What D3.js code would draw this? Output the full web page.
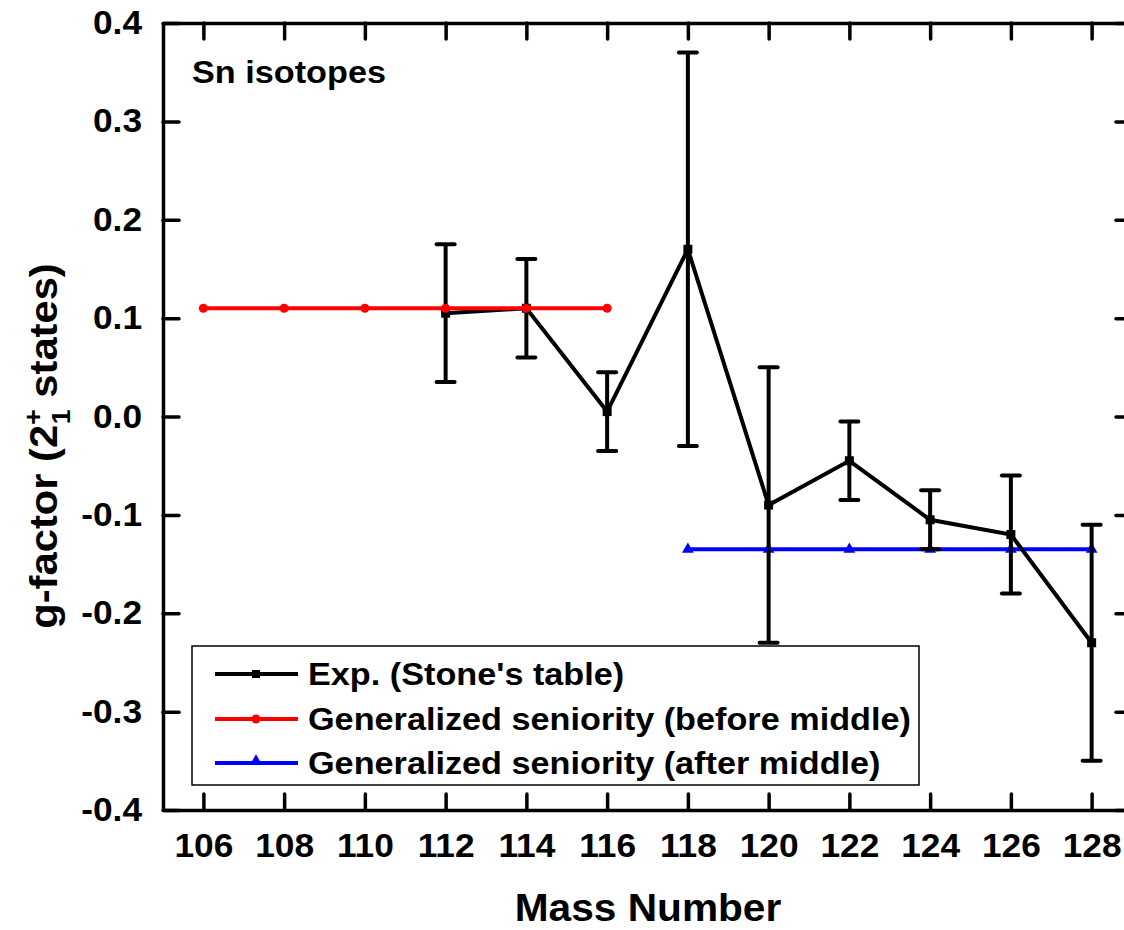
<!DOCTYPE html>
<html>
<head>
<meta charset="utf-8">
<script src="https://cdn.jsdelivr.net/npm/d3@7/dist/d3.min.js"></script>
<style>
  html, body { margin: 0; padding: 0; background: #fff; }
  svg { display: block; font-family: "Liberation Sans", Arial, sans-serif; font-weight: bold; }
</style>
</head>
<body>
<svg id="chart" width="1124" height="930"></svg>
<script>
// Experimental g-factors of 2+1 states in Sn isotopes (Stone's table)
const expMass  = [112, 114, 116, 118, 120, 122, 124, 126, 128];
const expG     = [0.105, 0.11, 0.005, 0.17, -0.09, -0.045, -0.105, -0.12, -0.23];
const expErr   = [0.07, 0.05, 0.04, 0.2, 0.14, 0.04, 0.03, 0.06, 0.12];

// Generalized seniority predictions
const beforeMass = [106, 108, 110, 112, 114, 116];
const beforeG    = [0.11, 0.11, 0.11, 0.11, 0.11, 0.11];
const afterMass  = [118, 120, 122, 124, 126, 128];
const afterG     = [-0.135, -0.135, -0.135, -0.135, -0.135, -0.135];

const xTicks = [106, 108, 110, 112, 114, 116, 118, 120, 122, 124, 126, 128];
const yTicks = [-0.4, -0.3, -0.2, -0.1, 0.0, 0.1, 0.2, 0.3, 0.4];

const legendLabels = [
  "Exp. (Stone's table)",
  "Generalized seniority (before middle)",
  "Generalized seniority (after middle)"
];

const svg = d3.select("#chart");
const frame = { left: 163, right: 1132, top: 23, bottom: 810 };

const x = d3.scaleLinear().domain([105, 129]).range([frame.left, frame.right]);
const y = d3.scaleLinear().domain([-0.4, 0.4]).range([frame.bottom, frame.top]);

const tickLen = 16;
const axisStroke = 3.5;
const fontFam = "Liberation Sans, Arial, sans-serif";
const sx = 1.07;   // slightly widened lettering

// Horizontally widened text placed at (px, py)
function wideText(parent, px, py, str, size, anchor) {
  return parent.append("text")
    .attr("transform", `translate(${px},${py}) scale(${sx},1)`)
    .attr("text-anchor", anchor || "start")
    .attr("font-size", size).attr("fill", "#000")
    .text(str);
}

// Axes (ticks drawn inward on all four sides)
function styleAxis(g) {
  g.select(".domain").attr("stroke", "#000").attr("stroke-width", axisStroke);
  g.selectAll(".tick line").attr("stroke", "#000").attr("stroke-width", 3.5).attr("stroke-linecap", "round");
}

const xBottom = svg.append("g")
  .attr("transform", `translate(0,${frame.bottom})`)
  .call(d3.axisBottom(x).tickValues(xTicks).tickSizeInner(-tickLen).tickSizeOuter(0).tickPadding(24).tickFormat(d => String(d)));
styleAxis(xBottom);
xBottom.selectAll(".tick text").attr("font-size", 33).attr("font-weight", "bold").attr("fill", "#000")
  .attr("font-family", fontFam).attr("transform", `scale(${sx},1)`);

const xTop = svg.append("g")
  .attr("transform", `translate(0,${frame.top})`)
  .call(d3.axisTop(x).tickValues(xTicks).tickSizeInner(-tickLen).tickSizeOuter(0).tickFormat(""));
styleAxis(xTop);

const yPad = 21;
const yLeft = svg.append("g")
  .attr("transform", `translate(${frame.left},0)`)
  .call(d3.axisLeft(y).tickValues(yTicks).tickSizeInner(-tickLen).tickSizeOuter(0).tickPadding(yPad).tickFormat(d => d.toFixed(1)));
styleAxis(yLeft);
yLeft.selectAll(".tick text").attr("font-size", 33).attr("font-weight", "bold").attr("fill", "#000")
  .attr("font-family", fontFam).attr("x", -yPad / sx).attr("transform", `scale(${sx},1)`);

const yRight = svg.append("g")
  .attr("transform", `translate(${frame.right},0)`)
  .call(d3.axisRight(y).tickValues(yTicks).tickSizeInner(-tickLen).tickSizeOuter(0).tickFormat(""));
styleAxis(yRight);

// Axis titles
wideText(svg, 648, 921, "Mass Number", 38, "middle");

const yTitle = svg.append("text")
  .attr("transform", `translate(57,446) rotate(-90) scale(${sx},1)`)
  .attr("text-anchor", "middle").attr("font-size", 39).attr("fill", "#000");
yTitle.append("tspan").text("g-factor (2");
yTitle.append("tspan").attr("font-size", 25).attr("dy", -15).text("+");
yTitle.append("tspan").attr("font-size", 25).attr("dx", -14).attr("dy", 28).text("1");
yTitle.append("tspan").attr("dy", -13).text(" states)");

// Annotation
wideText(svg, 192, 83, "Sn isotopes", 32);

const plot = svg.append("g");
const line = d3.line().x(d => x(d[0])).y(d => y(d[1]));

// After-middle prediction (blue, triangles)
const afterPts = afterMass.map((m, i) => [m, afterG[i]]);
plot.append("path").datum(afterPts).attr("d", line)
  .attr("fill", "none").attr("stroke", "#0000ff").attr("stroke-width", 4);
plot.selectAll(".tri").data(afterPts).enter().append("path")
  .attr("transform", d => `translate(${x(d[0])},${y(d[1])})`)
  .attr("d", d3.symbol().type(d3.symbolTriangle).size(60))
  .attr("fill", "#0000ff");

// Experimental data with error bars
const expPts = expMass.map((m, i) => [m, expG[i], expErr[i]]);
const capHalf = 9;
const ebW = 4;
const eb = plot.selectAll(".eb").data(expPts).enter().append("g");
eb.append("line")
  .attr("x1", d => x(d[0])).attr("x2", d => x(d[0]))
  .attr("y1", d => y(d[1] + d[2])).attr("y2", d => y(d[1] - d[2]))
  .attr("stroke", "#000").attr("stroke-width", ebW);
eb.append("line")
  .attr("x1", d => x(d[0]) - capHalf).attr("x2", d => x(d[0]) + capHalf)
  .attr("y1", d => y(d[1] + d[2])).attr("y2", d => y(d[1] + d[2]))
  .attr("stroke", "#000").attr("stroke-width", ebW).attr("stroke-linecap", "round");
eb.append("line")
  .attr("x1", d => x(d[0]) - capHalf).attr("x2", d => x(d[0]) + capHalf)
  .attr("y1", d => y(d[1] - d[2])).attr("y2", d => y(d[1] - d[2]))
  .attr("stroke", "#000").attr("stroke-width", ebW).attr("stroke-linecap", "round");
plot.append("path").datum(expPts).attr("d", line)
  .attr("fill", "none").attr("stroke", "#000").attr("stroke-width", 4);
plot.selectAll(".sq").data(expPts).enter().append("rect")
  .attr("x", d => x(d[0]) - 4.5).attr("y", d => y(d[1]) - 4.5)
  .attr("width", 9).attr("height", 9).attr("fill", "#000");

// Before-middle prediction (red, circles)
const beforePts = beforeMass.map((m, i) => [m, beforeG[i]]);
plot.append("path").datum(beforePts).attr("d", line)
  .attr("fill", "none").attr("stroke", "#ff0000").attr("stroke-width", 4);
plot.selectAll(".dot").data(beforePts).enter().append("circle")
  .attr("cx", d => x(d[0])).attr("cy", d => y(d[1])).attr("r", 4.5)
  .attr("fill", "#ff0000");

// Legend
const lg = svg.append("g");
lg.append("rect").attr("x", 192).attr("y", 646).attr("width", 727).attr("height", 139)
  .attr("fill", "#fff").attr("stroke", "#000").attr("stroke-width", 1.5);
const legendColors = ["#000", "#ff0000", "#0000ff"];
const legendY = [674, 719, 763];
legendLabels.forEach((lab, i) => {
  const yy = legendY[i];
  lg.append("line").attr("x1", 215).attr("x2", 298).attr("y1", yy).attr("y2", yy)
    .attr("stroke", legendColors[i]).attr("stroke-width", 4);
  if (i === 0) {
    lg.append("rect").attr("x", 252).attr("y", yy - 4).attr("width", 8).attr("height", 8).attr("fill", "#000");
  } else if (i === 1) {
    lg.append("circle").attr("cx", 256).attr("cy", yy).attr("r", 4.5).attr("fill", "#ff0000");
  } else {
    lg.append("path").attr("transform", `translate(256,${yy - 2})`)
      .attr("d", d3.symbol().type(d3.symbolTriangle).size(60)).attr("fill", "#0000ff");
  }
  wideText(lg, 308, yy + 11, lab, 32);
});
</script>
</body>
</html>
